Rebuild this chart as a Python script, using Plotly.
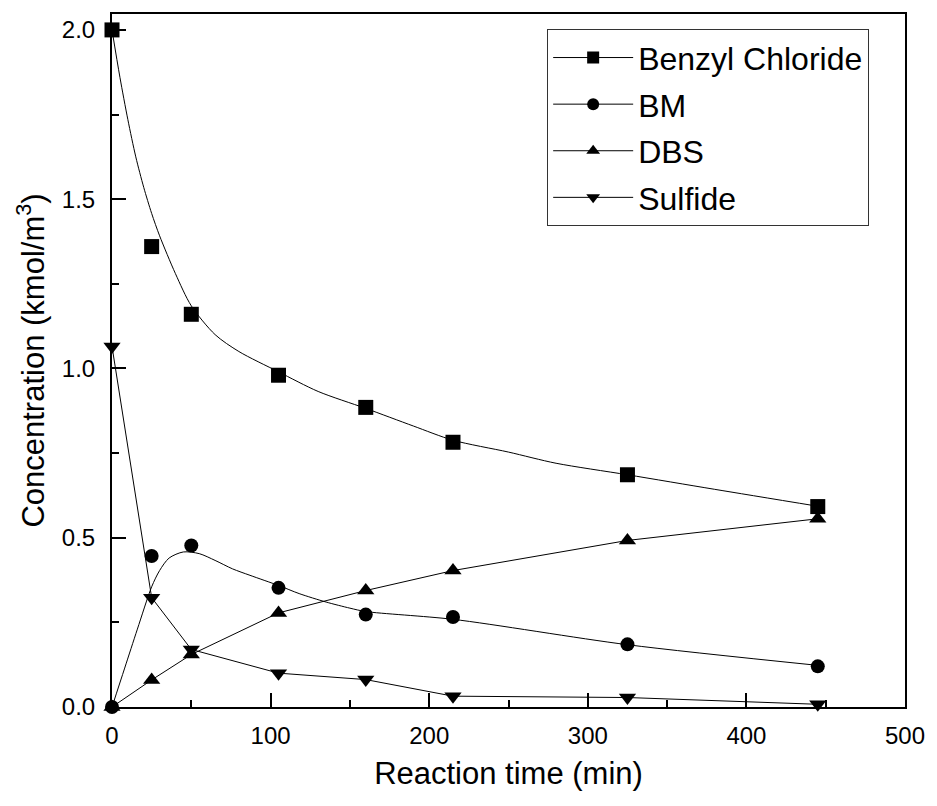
import plotly.graph_objects as go

# ---- measured data (markers) ----
time_min = [0, 25, 50, 105, 160, 215, 325, 445]
benzyl_chloride = [2.00, 1.36, 1.16, 0.98, 0.885, 0.782, 0.686, 0.592]
bm = [0.0, 0.446, 0.477, 0.352, 0.273, 0.266, 0.185, 0.120]
dbs = [0.0, 0.08, 0.155, 0.278, 0.344, 0.403, 0.492, 0.556]
sulfide = [1.065, 0.323, 0.170, 0.100, 0.081, 0.032, 0.028, 0.008]

# ---- model curves ----
bc_fit_t = [0, 5, 10, 15, 20, 25, 30, 40, 50, 65, 80, 105, 130, 160, 190, 215, 250, 280, 325, 380, 445]
bc_fit_c = [2.00, 1.86, 1.735, 1.625, 1.535, 1.458, 1.392, 1.28, 1.185, 1.10, 1.05, 0.99, 0.932, 0.882, 0.830, 0.788, 0.753, 0.72, 0.686, 0.643, 0.593]
bm_fit_t = [0, 8, 16, 25, 30, 36, 45, 55, 65, 76, 87, 105, 118, 135, 150, 160, 215, 325, 445]
bm_fit_c = [0.0, 0.115, 0.23, 0.355, 0.403, 0.440, 0.458, 0.453, 0.433, 0.408, 0.389, 0.359, 0.335, 0.310, 0.292, 0.282, 0.259, 0.184, 0.123]

series_names = ["Benzyl Chloride", "BM", "DBS", "Sulfide"]
symbols = ["square", "circle", "triangle-up", "triangle-down"]
sizes = [15, 14, 15, 15]

FONT = "Arial, Liberation Sans, sans-serif"
fig = go.Figure()

line_style = dict(color="black", width=1)

# curves
fig.add_trace(go.Scatter(x=bc_fit_t, y=bc_fit_c, mode="lines", line=dict(shape="spline", smoothing=0.8, **line_style),
                         showlegend=False, hoverinfo="skip", cliponaxis=False))
fig.add_trace(go.Scatter(x=bm_fit_t, y=bm_fit_c, mode="lines", line=dict(shape="spline", smoothing=0.8, **line_style),
                         showlegend=False, hoverinfo="skip", cliponaxis=False))
fig.add_trace(go.Scatter(x=time_min, y=dbs, mode="lines", line=line_style,
                         showlegend=False, hoverinfo="skip", cliponaxis=False))
fig.add_trace(go.Scatter(x=time_min, y=sulfide, mode="lines", line=line_style,
                         showlegend=False, hoverinfo="skip", cliponaxis=False))

# markers
for name, vals, sym, sz in zip(series_names, [benzyl_chloride, bm, dbs, sulfide], symbols, sizes):
    fig.add_trace(go.Scatter(x=time_min, y=vals, mode="markers", name=name,
                             marker=dict(symbol=sym, size=sz, color="black"),
                             showlegend=False, cliponaxis=False))

# legend entries
for i, (name, sym) in enumerate(zip(series_names, symbols)):
    fig.add_trace(go.Scatter(x=[None], y=[None], mode="lines+markers", name=name,
                             legendgroup=f"g{i}",
                             line=line_style, marker=dict(symbol=sym, size=12, color="black")))

axis_common = dict(
    showline=True, linecolor="black", linewidth=2, mirror=True,
    ticks="inside", ticklen=14, tickwidth=2, tickcolor="black",
    showgrid=False, zeroline=False,
    tickfont=dict(family=FONT, size=24, color="black"),
)

fig.update_xaxes(range=[0, 500], dtick=100, tick0=0,
                 minor=dict(ticks="inside", ticklen=7, tickwidth=2, tickcolor="black", dtick=50),
                 title=dict(text="Reaction time (min)", font=dict(family=FONT, size=31, color="black")),
                 ticklabelstandoff=6, **axis_common)
fig.update_yaxes(range=[0, 2.047], dtick=0.5, tick0=0, tickformat=".1f",
                 minor=dict(ticks="inside", ticklen=7, tickwidth=2, tickcolor="black", dtick=0.25),
                 title=dict(text="Concentration (kmol/m<sup>3</sup>)", standoff=8,
                            font=dict(family=FONT, size=31, color="black")),
                 ticklabelstandoff=10, **axis_common)

fig.update_layout(
    width=937, height=806,
    margin=dict(l=112, r=28, t=13, b=99),
    paper_bgcolor="white", plot_bgcolor="white",
    font=dict(family=FONT, color="black"),
    legend=dict(x=0.9548, y=0.978, xanchor="right", yanchor="top",
                bordercolor="#333", borderwidth=1, bgcolor="white",
                font=dict(family=FONT, size=32, color="black"),
                tracegroupgap=2, itemwidth=80),
)

fig.write_html("out.html")
